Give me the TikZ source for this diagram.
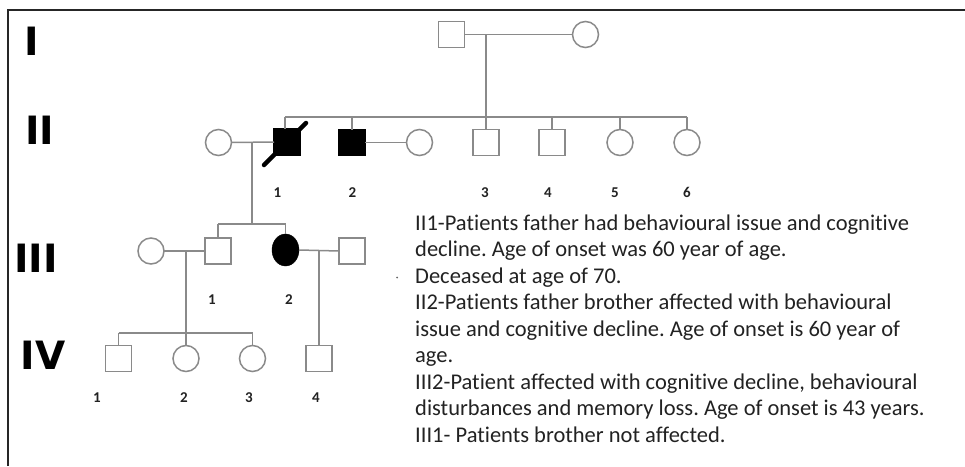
\documentclass[tikz,border=0pt]{standalone}
\usepackage{fontspec}
\usetikzlibrary{shapes.geometric}
\setmainfont{Carlito}[Ligatures=NoCommon]
\newfontfamily\genfont{DejaVu Sans}
\definecolor{symline}{HTML}{8A8A8A}
\definecolor{txt}{HTML}{222222}
\frenchspacing
\begin{document}
\begin{tikzpicture}[x=1pt,y=-1pt,
  sq/.style={draw=symline,line width=1.5pt,fill=white,minimum width=26pt,minimum height=26pt,inner sep=0pt,outer sep=0pt},
  sqa/.style={sq,fill=black,draw=black},
  ci/.style={circle,draw=symline,line width=1.5pt,fill=white,minimum size=26pt,inner sep=0pt,outer sep=0pt},
  cia/.style={ellipse,draw=black,fill=black,minimum width=27pt,minimum height=32pt,inner sep=0pt,outer sep=0pt},
  ln/.style={draw=symline,line width=1.5pt},
  gen/.style={font=\genfont\bfseries\fontsize{39}{39}\selectfont,text=black,inner sep=0pt},
  num/.style={font=\bfseries\fontsize{15}{15}\selectfont,text=txt,inner sep=0pt},
  note/.style={font=\fontsize{22.5}{26}\selectfont,text=txt,inner sep=0pt,anchor=base west}
]
\useasboundingbox (0,0) rectangle (965,466);
\fill[white] (0,0) rectangle (965,466);
% frame
\draw[line width=1.3pt,color=black!85] (8,466) -- (8,10) -- (965,10);

% generation labels
\node[gen] (gI) at (32,41) {I};
\node[gen] (gII) at (40,130) {II};
\node[gen] (gIII) at (36,258) {III};
\node[gen] (gIV) at (43,355) {IV};

% Generation I
\node[sq] (i1) at (451.5,34.5) {};
\node[ci] (i2) at (585.5,34.5) {};
\coordinate (m1) at (486,34.5);
\coordinate (s2) at (486,117);
\draw[ln] (i1) -- (i2);
\draw[ln] (m1) -- (s2);

% Generation II
\node[ci] (w1) at (218.5,142.5) {};
\node[sqa] (ii1) at (287,142) {};
\node[sqa] (ii2) at (352,142.5) {};
\node[ci] (w2) at (419.5,142.5) {};
\node[sq] (ii3) at (486,142.5) {};
\node[sq] (ii4) at (552,142.5) {};
\node[ci] (ii5) at (620,142.5) {};
\node[ci] (ii6) at (687,142.5) {};
\coordinate (s2l) at (285,117);
\coordinate (s2r) at (687,117);
\draw[ln] (s2l) -- (s2r);
\draw[ln] (s2l) -- (285,129);
\draw[ln] (352,117) -- (ii2.north);
\draw[ln] (486,117) -- (ii3.north);
\draw[ln] (552,117) -- (ii4.north);
\draw[ln] (620,117) -- (ii5.north);
\draw[ln] (687,117) -- (ii6.north);
\draw[ln] (w1.east) -- (ii1.west);
\draw[ln] (ii2.east) -- (w2.west);
% deceased slash
\coordinate (sl1) at (264,165);
\coordinate (sl2) at (306,123);
\draw[line width=4.5pt,line cap=round,black] (sl1) -- (sl2);

\node[num] (n21) at (277.5,192.5) {1};
\node[num] (n22) at (352.5,192.5) {2};
\node[num] (n23) at (485,192.5) {3};
\node[num] (n24) at (548,192.5) {4};
\node[num] (n25) at (615,192.5) {5};
\node[num] (n26) at (687,192.5) {6};

% Generation III
\coordinate (m2) at (252,142.5);
\coordinate (s3) at (252,224);
\draw[ln] (m2) -- (s3);
\node[ci] (w3) at (151,251) {};
\node[sq] (iii1) at (218,251) {};
\node[cia] (iii2) at (285.5,250) {};
\node[sq] (h3) at (352,251) {};
\draw[ln] (218,224) -- (285.5,224);
\draw[ln] (218,224) -- (iii1.north);
\draw[ln] (285.5,224) -- (iii2.north);
\draw[ln] (w3.east) -- (iii1.west);
\draw[ln] (iii2.east) -- (h3.west);
\node[num] (n31) at (212,300) {1};
\node[num] (n32) at (289,300) {2};

% Generation IV
\node[sq] (iv1) at (118.5,358.5) {};
\node[ci] (iv2) at (186,358.5) {};
\node[ci] (iv3) at (252.5,358.5) {};
\node[sq] (iv4) at (319,358.5) {};
\coordinate (m3) at (186,251);
\coordinate (m4) at (319,251);
\draw[ln] (m3) -- (iv2.north);
\draw[ln] (m4) -- (iv4.north);
\draw[ln] (118.5,333) -- (252.5,333);
\draw[ln] (118.5,333) -- (iv1.north);
\draw[ln] (252.5,333) -- (iv3.north);
\node[num] (n41) at (97,398) {1};
\node[num] (n42) at (184,398) {2};
\node[num] (n43) at (249,398) {3};
\node[num] (n44) at (316,398) {4};

% stray dot
\fill[black!60] (397,277.5) circle (1pt);

% notes
\node[note] (t1) at (415,230) {II1-Patients father had behavioural issue and cognitive};
\node[note] (t2) at (415,256.5) {decline. Age of onset was 60 year of age.};
\node[note] (t3) at (415,283) {Deceased at age of 70.};
\node[note] (t4) at (415,309.5) {II2-Patients father brother affected with behavioural};
\node[note] (t5) at (415,336) {issue and cognitive decline. Age of onset is 60 year of};
\node[note] (t6) at (415,362.5) {age.};
\node[note] (t7) at (415,389) {III2-Patient affected with cognitive decline, behavioural};
\node[note] (t8) at (415,415.5) {disturbances and memory loss. Age of onset is 43 years.};
\node[note] (t9) at (415,442) {III1- Patients brother not affected.};
\end{tikzpicture}
\end{document}
